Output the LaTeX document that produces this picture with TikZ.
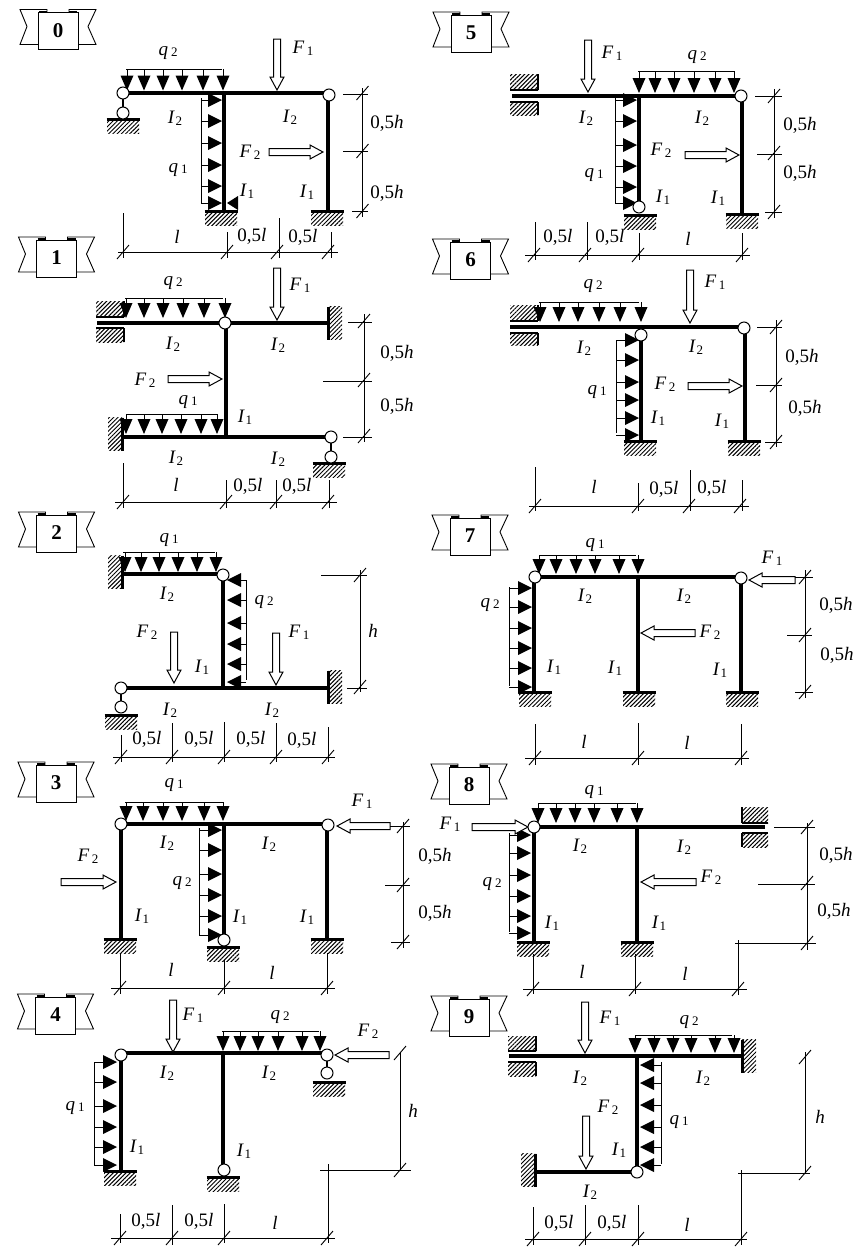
\documentclass[tikz,border=0pt]{standalone}
\usepackage{fontspec}
\setmainfont{Liberation Serif}
\usetikzlibrary{patterns.meta}
\newcounter{lbl}
\tikzset{
  lab/.style={inner sep=0pt,font=\fontsize{19}{19}\selectfont},
  thin line/.style={line width=0.9pt},
  beam/.style={line width=4.2pt},
  pin/.style={line width=1pt,fill=white},
  holl/.style={line width=1pt,fill=white,line join=miter},
  hatched/.style={pattern={Lines[angle=45,distance=3pt,line width=1pt]}},
  tagline/.style={line width=0.9pt,line join=miter}
}
\newcommand\LQ[1]{{\itshape q}\hspace{3pt}\raisebox{-1pt}{\fontsize{13}{13}\selectfont #1}}
\newcommand\LF[1]{{\itshape F}\hspace{2.5pt}\raisebox{-2pt}{\fontsize{13}{13}\selectfont #1}}
\newcommand\LI[1]{{\itshape I}\hspace{1.5pt}\raisebox{-2pt}{\fontsize{13}{13}\selectfont #1}}
\newcommand\HH{0,5{\itshape h}}
\newcommand\LL{0,5{\itshape l}}
\newcommand\Lab[3]{\stepcounter{lbl}\node[lab] (t\arabic{lbl}) at (#1,#2) {#3};}
\newcommand\Bm[4]{\draw[beam] (#1,#2) -- (#3,#4);}
\newcommand\Hg[2]{\draw[pin] (#1,#2) circle[radius=6];}
\newcommand\Gd[2]{\fill[hatched] (#1-16,#2) rectangle (#1+16,#2+14);\draw[line width=3pt] (#1-16.5,#2) -- (#1+16.5,#2);}
\newcommand\WR[2]{\fill[hatched] (#1,#2-16.5) rectangle (#1+14,#2+16.5);\draw[line width=3pt] (#1,#2-16.5) -- (#1,#2+16.5);}
\newcommand\WL[2]{\fill[hatched] (#1-14,#2-16.5) rectangle (#1,#2+16.5);\draw[line width=3pt] (#1,#2-16.5) -- (#1,#2+16.5);}
% clamp: far-x inner-x upper-top upper-bottom lower-top lower-bottom
\newcommand\Cl[6]{\fill[hatched] (#1,#3) rectangle (#2,#4);\fill[hatched] (#1,#5) rectangle (#2,#6);
  \draw[line width=2.4pt] (#1,#4) -- (#2,#4);\draw[line width=2.4pt] (#1,#5) -- (#2,#5);
  \draw[line width=1.6pt] (#2,#3) -- (#2,#4);\draw[line width=1.6pt] (#2,#5) -- (#2,#6);}
\newcommand\Qd[5]{\draw[thin line] (#3,#1) -- (#4,#1);
  \foreach \x in {#5}{\draw[thin line] (\x,#1) -- (\x,#2-14);\fill (\x-6.5,#2-15) -- (\x+6.5,#2-15) -- (\x,#2) -- cycle;}}
\newcommand\Qh[5]{\draw[thin line] (#1,#3) -- (#1,#4);
  \pgfmathsetmacro\qb{#2+14*sign(#1-#2)}
  \foreach \y in {#5}{\draw[thin line] (#1,\y) -- (\qb,\y);\fill (\qb,\y-7) -- (\qb,\y+7) -- (#2,\y) -- cycle;}}
% hollow force arrows
\newcommand\Fd[3]{\draw[holl] (#1-3.5,#3) -- (#1-3.5,#2-13) -- (#1-7,#2-13) -- (#1,#2) -- (#1+7,#2-13) -- (#1+3.5,#2-13) -- (#1+3.5,#3) -- cycle;}
\newcommand\Fr[3]{\draw[holl] (#3,#2-3.5) -- (#1-13,#2-3.5) -- (#1-13,#2-7) -- (#1,#2) -- (#1-13,#2+7) -- (#1-13,#2+3.5) -- (#3,#2+3.5) -- cycle;}
\newcommand\Fl[3]{\draw[holl] (#3,#2-3.5) -- (#1+13,#2-3.5) -- (#1+13,#2-7) -- (#1,#2) -- (#1+13,#2+7) -- (#1+13,#2+3.5) -- (#3,#2+3.5) -- cycle;}
% dimension lines
\newcommand\Ex[4]{\draw[thin line] (#1,#2) -- (#3,#4);}
\newcommand\DimV[4]{\draw[thin line] (#1,#2) -- (#1,#3);\foreach \y in {#4}{\draw[thin line] (#1-6,\y+7) -- (#1+6,\y-7);}}
\newcommand\DimH[4]{\draw[thin line] (#2,#1) -- (#3,#1);\foreach \x in {#4}{\draw[thin line] (\x-6,#1+7) -- (\x+6,#1-7);}}
% numbered tag
\newcommand\Tag[3]{\begin{scope}[shift={(#1,#2)}]
  \draw[tagline,fill=white] (-20,-18) rectangle (20,19);
  \draw[tagline] (-20,14) -- (-38,14) -- (-31,-4) -- (-38,-21) -- (-11,-21) -- (-11,-18);
  \draw[tagline] (20,14) -- (38,14) -- (30,-4) -- (38,-21) -- (11,-21) -- (11,-18);
  \draw[line width=1.6pt] (-19,-19) -- (-11,-19);\draw[line width=1.6pt] (11,-19) -- (19,-19);
  \node[inner sep=0pt,font=\fontsize{21}{21}\selectfont\bfseries] (tag#3) at (0,0) {#3};
\end{scope}}
\begin{document}
\begin{tikzpicture}[x=1pt,y=-1pt]
\useasboundingbox (0,0) rectangle (864,1248);
\fill[white] (0,0) rectangle (864,1248);
%%%%% Panel 0
\Tag{58}{30.5}{0}
\Qd{69}{90.5}{126}{222}{127,144,163,182,203,223}
\Qh{201}{222}{98}{203}{100,121,143,165,186,203}
\fill (238,196) -- (238,210) -- (227,203) -- cycle;
\Gd{123}{119}\Gd{221}{211}\Gd{327}{211}
\Bm{123}{93}{328}{93}\Bm{224}{93}{224}{211}\Bm{328}{95}{328}{211}
\draw[line width=1.6pt] (123,93) -- (123,113);
\Hg{123}{93}\Hg{123}{113}\Hg{329}{95}
\Fd{277}{90}{39}\Fr{323}{152}{269}
\DimV{362.5}{88}{217}{93,151,211}\Ex{343}{94}{368}{94}\Ex{343}{151}{368}{151}\Ex{352}{211}{368}{211}
\DimH{252}{118}{338}{123,227,277,328}\Ex{123}{213}{123}{258}\Ex{227}{232}{227}{258}\Ex{279}{218}{279}{258}\Ex{331}{232}{331}{258}
\Lab{168}{53}{\LQ2}\Lab{303}{48}{\LF1}\Lab{175}{118}{\LI2}\Lab{290}{117}{\LI2}
\Lab{387}{123}{\HH}\Lab{387}{193}{\HH}\Lab{250}{152}{\LF2}\Lab{178}{170}{\LQ1}
\Lab{247}{191}{\LI1}\Lab{307}{192}{\LI1}\Lab{177}{237}{\itshape l}\Lab{252}{236}{\LL}\Lab{303}{237}{\LL}
%%%%% Panel 1
\Tag{56.5}{258}{1}
\Qd{298}{318}{125}{223}{126,144,163,183,204,225}
\Qd{414}{434}{126}{218}{126,144,162,181,201,217}
\Cl{96}{124}{301}{317}{328}{342}
\WR{328}{323}\WL{122}{434}\Gd{329}{463}
\Bm{97}{323}{328}{323}\Bm{226}{323}{226}{437}\Bm{122}{437}{331}{437}
\draw[line width=1.6pt] (331,437) -- (331,457);
\Hg{225}{323}\Hg{331}{437}\Hg{331}{457}
\Fd{277}{320}{268}\Fr{222}{379}{168}
\DimV{364}{314}{442}{321,380,436}\Ex{348}{322}{372}{322}\Ex{323}{381}{372}{381}\Ex{343}{437}{372}{437}
\DimH{502}{115}{337}{123,226,276,328}\Ex{123}{463}{123}{508}\Ex{226}{480}{226}{508}\Ex{276}{480}{276}{508}\Ex{329}{480}{329}{508}
\Lab{173}{283}{\LQ2}\Lab{300}{285}{\LF1}\Lab{173}{344}{\LI2}\Lab{278}{345}{\LI2}
\Lab{397}{353}{\HH}\Lab{145}{380}{\LF2}\Lab{397}{406}{\HH}\Lab{188}{402}{\LQ1}\Lab{245}{417}{\LI1}
\Lab{176}{458}{\LI2}\Lab{278}{459}{\LI2}\Lab{176}{485}{\itshape l}\Lab{248}{486}{\LL}\Lab{297}{486}{\LL}
%%%%% Panel 2
\Tag{56.5}{533}{2}
\Qd{552}{572}{123}{215}{125,141,159,178,197,216}
\Qh{246}{227}{580}{680}{580,600,623,644,664,682}
\WL{122}{572}\WR{328}{687}\Gd{121}{715}
\Bm{123}{574}{223}{574}\Bm{223}{575}{223}{688}\Bm{121}{688}{328}{688}
\draw[line width=1.6pt] (121,688) -- (121,707);
\Hg{223}{575}\Hg{121}{688}\Hg{121}{707}
\Fd{174}{683}{632}\Fd{276}{685}{633}
\DimV{360}{570}{692}{575,687}\Ex{321}{575}{367}{575}\Ex{347}{688}{367}{688}
\DimH{757}{113}{335}{121,172,224,276,328}\Ex{121}{735}{121}{762}\Ex{172}{723}{172}{762}\Ex{224}{722}{224}{762}\Ex{276}{723}{276}{762}\Ex{328}{727}{328}{762}
\Lab{169}{540}{\LQ1}\Lab{167}{594}{\LI2}\Lab{264}{602}{\LQ2}\Lab{147}{632}{\LF2}\Lab{299}{632}{\LF1}
\Lab{373}{631}{\itshape h}\Lab{202}{667}{\LI1}\Lab{170}{710}{\LI2}\Lab{272}{710}{\LI2}
\Lab{147}{739}{\LL}\Lab{199}{739}{\LL}\Lab{251}{739}{\LL}\Lab{302}{740}{\LL}
%%%%% Panel 3
\Tag{56}{783}{3}
\Qd{802}{821}{125}{223}{126,143,163,182,204,223}
\Qh{199}{222}{828}{935}{830,850,874,895,916,935}
\Gd{120}{939}\Gd{223}{947}\Gd{327}{939}
\Bm{121}{824}{328}{824}\Bm{121}{824}{121}{939}\Bm{224}{824}{224}{940}\Bm{327}{824}{327}{939}
\Hg{121}{824}\Hg{328}{825}\Hg{224}{940}
\Fl{337}{826}{390}\Fr{116}{882}{61}
\DimV{403}{822}{948}{826,885,942}\Ex{390}{826}{410}{826}\Ex{385}{885}{410}{885}\Ex{391}{942}{410}{942}
\DimH{988}{111}{335}{120,224,327}\Ex{120}{953}{120}{994}\Ex{224}{960}{224}{994}\Ex{327}{953}{327}{994}
\Lab{174}{785}{\LQ1}\Lab{362}{801}{\LF1}\Lab{167}{843}{\LI2}\Lab{269}{844}{\LI2}\Lab{88}{856}{\LF2}
\Lab{182}{883}{\LQ2}\Lab{142}{916}{\LI1}\Lab{240}{917}{\LI1}\Lab{307}{917}{\LI1}
\Lab{171}{970}{\itshape l}\Lab{272}{973}{\itshape l}\Lab{435}{856}{\HH}\Lab{435}{913}{\HH}
%%%%% Panel 4
\Tag{55.5}{1015}{4}
\Qd{1031}{1051}{222}{319}{223,240,258,278,302,320}
\Qh{94}{117}{1062}{1165}{1062,1082,1106,1127,1147,1165}
\Gd{120}{1171}\Gd{223}{1177}\Gd{329}{1082}
\Bm{121}{1053}{327}{1053}\Bm{121}{1055}{121}{1171}\Bm{223}{1053}{223}{1170}
\draw[line width=1.6pt] (327,1055) -- (327,1073);
\Hg{121}{1055}\Hg{327}{1055}\Hg{327}{1073}\Hg{224}{1170}
\Fd{173}{1052}{1000}\Fl{335}{1055}{389}
\DimV{400}{1053}{1170}{1053,1170}\Ex{320}{1170}{411}{1170}\Ex{328}{1164}{328}{1243}
\DimH{1238}{111}{335}{120,172,224,327}\Ex{120}{1214}{120}{1243}\Ex{172}{1205}{172}{1245}\Ex{224}{1204}{224}{1243}
\Lab{193}{1015}{\LF1}\Lab{280}{1017}{\LQ2}\Lab{368}{1031}{\LF2}\Lab{167}{1073}{\LI2}\Lab{269}{1073}{\LI2}
\Lab{75}{1108}{\LQ1}\Lab{413}{1111}{\itshape h}\Lab{137}{1147}{\LI1}\Lab{244}{1151}{\LI1}
\Lab{146}{1221}{\LL}\Lab{199}{1221}{\LL}\Lab{275}{1223}{\itshape l}
%%%%% Panel 5
\Tag{471}{33}{5}
\Qd{71}{93}{638}{734}{639,655,674,694,715,734}
\Qh{615}{637}{98}{203}{100,121,145,166,187,203}
\Cl{510}{538}{74}{90}{102}{115}
\Gd{640}{215}\Gd{742}{214}
\Bm{512}{96}{741}{96}\Bm{639}{96}{639}{207}\Bm{742}{96}{742}{214}
\Hg{741}{96}\Hg{639}{207}
\Fd{588}{92}{40}\Fr{739}{155}{685}
\DimV{774}{89}{218}{96,153,212}\Ex{755}{96}{782}{96}\Ex{757}{154}{782}{154}\Ex{765}{212}{782}{212}
\DimH{255}{525}{750}{534,585,638,742}\Ex{535}{222}{535}{260}\Ex{587}{222}{587}{260}\Ex{639}{233}{639}{260}\Ex{742}{233}{742}{260}
\Lab{612}{53}{\LF1}\Lab{697}{57}{\LQ2}\Lab{586}{118}{\LI2}\Lab{702}{118}{\LI2}\Lab{800}{125}{\HH}
\Lab{661}{150}{\LF2}\Lab{800}{173}{\HH}\Lab{594}{175}{\LQ1}\Lab{663}{197}{\LI1}\Lab{718}{198}{\LI1}
\Lab{558}{237}{\LL}\Lab{610}{237}{\LL}\Lab{688}{239}{\itshape l}
%%%%% Panel 6
\Tag{470.5}{260}{6}
\Qd{302}{322}{539}{639}{540,559,578,599,620,641}
\Qh{616}{639}{340}{433}{340,360,382,400,418,435}
\Cl{510}{538}{305}{321}{333}{345}
\Gd{640}{441}\Gd{744}{441}
\Bm{510}{327}{744}{327}\Bm{641}{335}{641}{441}\Bm{745}{328}{745}{441}
\Hg{744}{328}\Hg{641}{335}
\Fd{690}{323}{270}\Fr{742}{386}{688}
\DimV{776}{320}{447}{327,385,442}\Ex{757}{327}{782}{327}\Ex{756}{385}{782}{385}\Ex{765}{442}{782}{442}
\DimH{506}{529}{749}{535,638,689,740}\Ex{535}{467}{535}{511}\Ex{638}{483}{638}{511}\Ex{690}{470}{690}{511}\Ex{742}{480}{742}{511}
\Lab{593}{286}{\LQ2}\Lab{715}{282}{\LF1}\Lab{584}{348}{\LI2}\Lab{696}{347}{\LI2}\Lab{802}{357}{\HH}
\Lab{665}{384}{\LF2}\Lab{597}{392}{\LQ1}\Lab{805}{408}{\HH}\Lab{658}{418}{\LI1}\Lab{722}{421}{\LI1}
\Lab{594}{487}{\itshape l}\Lab{664}{489}{\LL}\Lab{712}{488}{\LL}
%%%%% Panel 7
\Tag{470}{536}{7}
\Qd{555}{574}{539}{636}{539,556,576,595,619,638}
\Qh{509}{532}{587}{686}{588,607,628,648,668,687}
\Gd{535}{692}\Gd{639}{692}\Gd{742}{692}
\Bm{535}{577}{741}{577}\Bm{534}{577}{534}{692}\Bm{638}{577}{638}{692}\Bm{741}{578}{741}{692}
\Hg{535}{577}\Hg{741}{578}
\Fl{749}{580}{795}\Fl{641}{633}{695}
\DimV{805}{570}{698}{577,635,692}\Ex{795}{577}{813}{577}\Ex{787}{635}{812}{635}\Ex{795}{692}{813}{692}
\DimH{758}{525}{749}{535,638,741}\Ex{535}{724}{535}{765}\Ex{638}{723}{638}{765}\Ex{741}{724}{741}{765}
\Lab{595}{545}{\LQ1}\Lab{772}{558}{\LF1}\Lab{585}{596}{\LI2}\Lab{684}{596}{\LI2}\Lab{490}{605}{\LQ2}
\Lab{836}{605}{\HH}\Lab{710}{632}{\LF2}\Lab{837}{655}{\HH}\Lab{554}{667}{\LI1}\Lab{615}{668}{\LI1}
\Lab{720}{670}{\LI1}\Lab{584}{742}{\itshape l}\Lab{687}{743}{\itshape l}
%%%%% Panel 8
\Tag{469}{785}{8}
\Qd{803}{823}{538}{636}{538,556,575,594,617,637}
\Qh{509}{531}{833}{932}{835,853,875,896,916,933}
\Cl{768}{742}{807}{823}{833}{847}
\Gd{533}{942}\Gd{637}{942}
\Bm{534}{827}{765}{827}\Bm{534}{827}{534}{942}\Bm{637}{827}{637}{942}
\Fr{528}{827}{472}\Hg{534}{827}
\Fl{641}{882}{696}
\DimV{807}{823}{950}{827,883,943}\Ex{774}{827}{815}{827}\Ex{758}{884}{815}{884}\Ex{735}{943}{816}{943}\Ex{738}{940}{738}{995}
\DimH{989}{523}{747}{533,635,738}\Ex{533}{954}{533}{994}\Ex{635}{954}{635}{994}
\Lab{594}{792}{\LQ1}\Lab{450}{824}{\LF1}\Lab{580}{846}{\LI2}\Lab{684}{847}{\LI2}\Lab{836}{855}{\HH}
\Lab{711}{877}{\LF2}\Lab{492}{884}{\LQ2}\Lab{834}{911}{\HH}\Lab{552}{923}{\LI1}\Lab{659}{923}{\LI1}
\Lab{582}{972}{\itshape l}\Lab{685}{974}{\itshape l}
%%%%% Panel 9
\Tag{469}{1017}{9}
\Qd{1035}{1053}{635}{732}{635,654,673,691,715,734}
\Qh{661}{640}{1062}{1164}{1065,1083,1105,1127,1147,1165}
\Cl{508}{536}{1036}{1051}{1062}{1076}
\WR{742}{1056}\WL{535}{1170}
\Bm{509}{1056}{742}{1056}\Bm{637}{1056}{637}{1172}\Bm{535}{1172}{637}{1172}
\Hg{637}{1172}
\Fd{585}{1053}{1002}\Fd{586}{1169}{1116}
\DimV{805}{1052}{1173}{1057,1173}\Ex{738}{1173}{810}{1173}\Ex{741}{1170}{741}{1245}
\DimH{1239}{525}{747}{533,585,638,741}\Ex{533}{1207}{533}{1245}\Ex{585}{1205}{585}{1245}\Ex{638}{1205}{638}{1245}
\Lab{610}{1018}{\LF1}\Lab{689}{1022}{\LQ2}\Lab{580}{1078}{\LI2}\Lab{703}{1078}{\LI2}\Lab{608}{1107}{\LF2}
\Lab{679}{1122}{\LQ1}\Lab{820}{1117}{\itshape h}\Lab{619}{1150}{\LI1}\Lab{590}{1192}{\LI2}
\Lab{559}{1223}{\LL}\Lab{612}{1223}{\LL}\Lab{687}{1225}{\itshape l}
\end{tikzpicture}
\end{document}
